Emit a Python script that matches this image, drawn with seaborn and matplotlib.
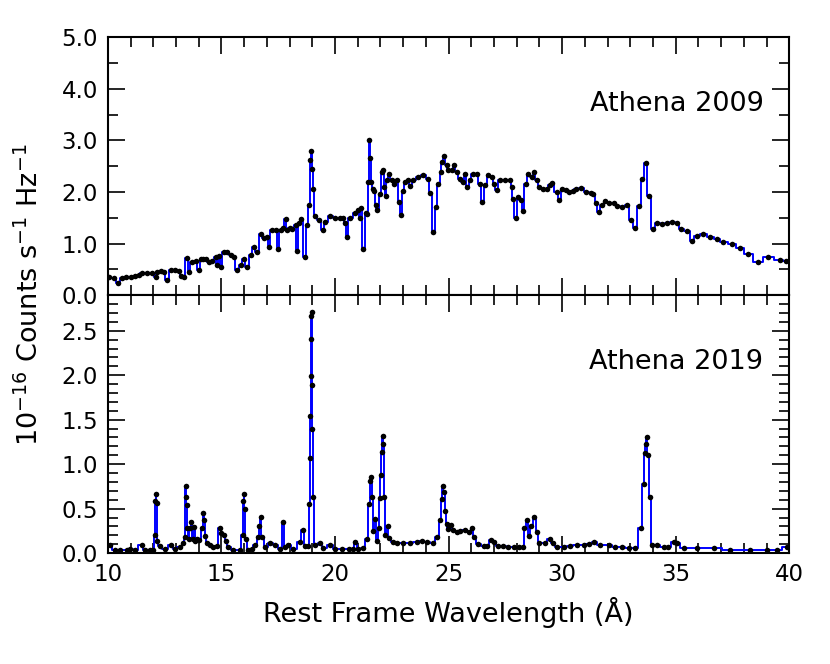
import matplotlib
matplotlib.use('Agg')
import matplotlib.pyplot as plt
from matplotlib.ticker import MultipleLocator, FormatStrFormatter
import seaborn as sns
import pandas as pd

# Athena 2009 (top panel)
top_wave = [10.04, 10.25, 10.45, 10.62, 10.78, 11.0, 11.2, 11.36, 11.51, 11.73, 11.95, 12.10, 12.17,
            12.32, 12.46, 12.61, 12.76, 12.95, 13.12, 13.24, 13.34, 13.49, 13.56, 13.71, 13.86, 14.0,
            14.08, 14.18, 14.30, 14.44, 14.59, 14.74, 14.81, 14.88, 14.96, 15.10, 15.25, 15.40, 15.54,
            15.69, 15.84, 15.98, 16.13, 16.28, 16.42, 16.57, 16.72, 16.86, 17.01, 17.08, 17.23, 17.38,
            17.48, 17.60, 17.72, 17.82, 17.89, 18.0, 18.11, 18.26, 18.33, 18.42, 18.52, 18.67, 18.77,
            18.87, 18.91, 18.96, 19.00, 19.05, 19.10, 19.28, 19.46, 19.57, 19.79, 20.01, 20.22, 20.37,
            20.44, 20.51, 20.66, 20.88, 21.03, 21.10, 21.14, 21.25, 21.35, 21.42, 21.47, 21.51, 21.55,
            21.60, 21.66, 21.72, 21.79, 21.86, 21.98, 22.05, 22.13, 22.17, 22.23, 22.30, 22.39, 22.49,
            22.60, 22.71, 22.82, 22.90, 22.98, 23.08, 23.23, 23.30, 23.45, 23.67, 23.89, 24.11, 24.18,
            24.33, 24.43, 24.55, 24.65, 24.72, 24.81, 24.91, 24.99, 25.13, 25.23, 25.35, 25.50, 25.62,
            25.72, 25.82, 25.94, 26.06, 26.23, 26.38, 26.48, 26.60, 26.74, 26.89, 26.99, 27.11, 27.26,
            27.48, 27.70, 27.77, 27.84, 27.96, 28.06, 28.17, 28.28, 28.39, 28.50, 28.65, 28.77, 28.87,
            28.97, 29.16, 29.31, 29.46, 29.57, 29.75, 29.87, 30.0, 30.17, 30.32, 30.47, 30.61, 30.83,
            31.05, 31.27, 31.37, 31.49, 31.60, 31.75, 31.90, 32.07, 32.29, 32.43, 32.65, 32.87, 33.02,
            33.21, 33.38, 33.53, 33.67, 33.82, 33.99, 34.18, 34.40, 34.62, 34.84, 35.06, 35.25, 35.50,
            35.71, 35.93, 36.22, 36.52, 36.81, 37.10, 37.46, 37.83, 38.19, 38.63, 39.07, 39.58, 39.87]
top_counts = [0.35, 0.34, 0.23, 0.33, 0.35, 0.36, 0.38, 0.39, 0.43, 0.43, 0.42, 0.35, 0.45,
              0.46, 0.44, 0.29, 0.48, 0.49, 0.46, 0.37, 0.35, 0.72, 0.45, 0.65, 0.66, 0.48,
              0.71, 0.70, 0.71, 0.65, 0.66, 0.73, 0.58, 0.75, 0.55, 0.84, 0.83, 0.77, 0.74,
              0.48, 0.58, 0.71, 0.55, 0.77, 0.94, 0.84, 1.19, 1.10, 1.13, 0.94, 1.26, 1.26,
              0.89, 1.27, 1.30, 1.48, 1.26, 1.30, 1.29, 1.35, 0.86, 1.40, 1.48, 0.74, 1.35,
              1.74, 2.61, 2.79, 2.44, 2.05, 1.53, 1.46, 1.26, 1.42, 1.53, 1.50, 1.50, 1.49,
              1.39, 1.12, 1.50, 1.59, 1.65, 1.50, 1.68, 0.89, 1.59, 1.57, 2.19, 3.00, 2.65,
              2.19, 2.06, 2.02, 1.74, 1.65, 1.97, 2.39, 2.43, 2.10, 1.92, 2.24, 2.34, 2.23,
              2.16, 2.23, 1.81, 1.55, 2.02, 2.19, 2.23, 2.11, 2.24, 2.29, 2.32, 2.26, 1.98,
              1.23, 1.71, 2.16, 2.39, 2.58, 2.69, 2.52, 2.42, 2.43, 2.52, 2.39, 2.26, 2.19,
              2.34, 2.10, 2.23, 2.34, 2.34, 2.16, 1.81, 2.13, 2.32, 2.29, 2.16, 2.03, 2.23,
              2.23, 2.23, 2.10, 1.87, 1.50, 1.90, 1.84, 1.63, 2.16, 2.34, 2.29, 2.39, 2.24,
              2.10, 2.05, 2.06, 2.13, 2.17, 2.00, 1.85, 2.05, 2.03, 2.00, 2.02, 2.05, 2.07,
              2.00, 1.98, 1.96, 1.79, 1.62, 1.74, 1.83, 1.79, 1.78, 1.72, 1.70, 1.74, 1.45,
              1.31, 1.72, 2.26, 2.56, 1.92, 1.29, 1.39, 1.37, 1.40, 1.42, 1.40, 1.29, 1.24,
              1.05, 1.14, 1.18, 1.13, 1.08, 1.03, 1.00, 0.92, 0.79, 0.65, 0.74, 0.68, 0.67]

# Athena 2019 (bottom panel)
bot_wave = [10.09, 10.31, 10.55, 10.82, 10.97, 11.2, 11.48, 11.62, 11.85, 12.0, 12.07, 12.09, 12.11,
            12.14, 12.17, 12.28, 12.5, 12.78, 12.95, 13.17, 13.32, 13.39, 13.42, 13.45, 13.47, 13.49,
            13.55, 13.61, 13.67, 13.73, 13.79, 13.84, 13.91, 14.02, 14.14, 14.19, 14.23, 14.29, 14.38,
            14.49, 14.64, 14.79, 14.93, 15.0, 15.11, 15.2, 15.3, 15.52, 15.82, 15.93, 15.96, 15.99,
            16.02, 16.06, 16.18, 16.33, 16.47, 16.62, 16.67, 16.73, 16.79, 16.92, 17.14, 17.36, 17.58,
            17.72, 17.80, 17.95, 18.16, 18.46, 18.58, 18.68, 18.82, 18.87, 18.90, 18.91, 18.93, 18.94,
            18.96, 18.97, 18.98, 19.00, 19.02, 19.12, 19.34, 19.49, 19.78, 20.0, 20.3, 20.6, 20.8,
            20.88, 21.03, 21.25, 21.39, 21.51, 21.54, 21.59, 21.63, 21.69, 21.76, 21.83, 21.92, 21.98,
            22.01, 22.06, 22.09, 22.13, 22.16, 22.22, 22.31, 22.39, 22.54, 22.72, 23.0, 23.3, 23.6,
            23.82, 24.04, 24.33, 24.48, 24.63, 24.70, 24.74, 24.80, 24.84, 24.91, 24.99, 25.09, 25.21,
            25.36, 25.50, 25.72, 25.91, 26.02, 26.12, 26.31, 26.54, 26.68, 26.86, 27.01, 27.19, 27.41,
            27.63, 27.86, 28.08, 28.27, 28.33, 28.45, 28.55, 28.64, 28.77, 28.89, 29.00, 29.25, 29.45,
            29.60, 29.77, 30.06, 30.35, 30.64, 30.94, 31.20, 31.41, 31.67, 32.04, 32.33, 32.63, 32.92,
            33.21, 33.46, 33.58, 33.64, 33.68, 33.73, 33.77, 33.85, 33.95, 34.17, 34.47, 34.64, 34.91,
            35.05, 35.35, 35.93, 36.67, 37.40, 38.28, 39.02, 39.46, 39.90]
bot_counts = [0.09, 0.034, 0.035, 0.035, 0.05, 0.04, 0.09, 0.04, 0.04, 0.04, 0.20, 0.59, 0.67,
              0.56, 0.14, 0.08, 0.05, 0.09, 0.05, 0.07, 0.11, 0.18, 0.76, 0.63, 0.54, 0.28,
              0.16, 0.28, 0.35, 0.16, 0.29, 0.14, 0.16, 0.15, 0.28, 0.45, 0.37, 0.19, 0.11,
              0.09, 0.07, 0.08, 0.28, 0.23, 0.20, 0.14, 0.07, 0.04, 0.04, 0.20, 0.59, 0.66,
              0.50, 0.16, 0.034, 0.05, 0.09, 0.18, 0.31, 0.41, 0.18, 0.07, 0.11, 0.09, 0.05,
              0.35, 0.07, 0.09, 0.05, 0.12, 0.26, 0.08, 0.08, 0.55, 1.07, 1.54, 1.99, 2.41,
              2.66, 2.71, 1.89, 1.40, 0.63, 0.09, 0.11, 0.06, 0.09, 0.05, 0.05, 0.05, 0.05,
              0.12, 0.05, 0.06, 0.16, 0.55, 0.81, 0.86, 0.63, 0.25, 0.38, 0.14, 0.28, 0.62,
              0.88, 1.14, 1.32, 1.23, 0.63, 0.20, 0.30, 0.17, 0.12, 0.11, 0.11, 0.11, 0.12,
              0.14, 0.13, 0.11, 0.18, 0.37, 0.61, 0.76, 0.69, 0.47, 0.33, 0.27, 0.32, 0.26,
              0.24, 0.25, 0.26, 0.24, 0.28, 0.18, 0.10, 0.08, 0.08, 0.15, 0.125, 0.08, 0.08,
              0.065, 0.065, 0.065, 0.065, 0.28, 0.37, 0.19, 0.30, 0.41, 0.24, 0.114, 0.11, 0.16,
              0.11, 0.07, 0.07, 0.075, 0.09, 0.09, 0.10, 0.125, 0.09, 0.09, 0.07, 0.065, 0.054,
              0.054, 0.28, 0.775, 1.12, 1.23, 1.30, 1.10, 0.63, 0.09, 0.09, 0.065, 0.065, 0.125,
              0.115, 0.054, 0.054, 0.054, 0.036, 0.03, 0.03, 0.036, 0.07]

panel_labels = ['Athena 2009', 'Athena 2019']

sns.set_theme(style='white', rc={
    'axes.linewidth': 1.5, 'axes.edgecolor': 'black',
    'text.color': 'black', 'axes.labelcolor': 'black',
    'xtick.direction': 'in', 'ytick.direction': 'in',
    'xtick.top': True, 'ytick.right': True,
    'xtick.bottom': True, 'ytick.left': True,
    'xtick.major.size': 12, 'xtick.minor.size': 7,
    'ytick.major.size': 12, 'ytick.minor.size': 7,
    'xtick.major.width': 1.2, 'xtick.minor.width': 1.2,
    'ytick.major.width': 1.2, 'ytick.minor.width': 1.2,
    'xtick.color': 'black', 'ytick.color': 'black',
    'xtick.major.pad': 7, 'ytick.major.pad': 7,
})
plt.rcParams['font.family'] = ['DejaVu Sans']
plt.rcParams['mathtext.fontset'] = 'dejavusans'

fig, (ax1, ax2) = plt.subplots(2, 1, sharex=True, figsize=(8.3, 6.64), dpi=100)
fig.subplots_adjust(left=0.130, right=0.951, top=0.944, bottom=0.167, hspace=0)

df_top = pd.DataFrame({'wave': top_wave, 'counts': top_counts})
df_bot = pd.DataFrame({'wave': bot_wave, 'counts': bot_counts})

for ax, df, lab in [(ax1, df_top, panel_labels[0]), (ax2, df_bot, panel_labels[1])]:
    sns.lineplot(data=df, x='wave', y='counts', ax=ax, color='blue', lw=1.4,
                 drawstyle='steps-mid', errorbar=None, zorder=2)
    sns.scatterplot(data=df, x='wave', y='counts', ax=ax, color='black', s=16,
                    linewidth=0, zorder=3)
    ax.text(0.962, 0.742, lab, transform=ax.transAxes, ha='right', va='center',
            fontsize=19.5, color='black')
    ax.set_xlabel('')
    ax.set_ylabel('')
    ax.xaxis.set_major_locator(MultipleLocator(5))
    ax.xaxis.set_minor_locator(MultipleLocator(1))
    ax.tick_params(which='both', direction='in', top=True, right=True, labelsize=16.5)

ax1.set_ylim(0, 5)
ax1.yaxis.set_major_locator(MultipleLocator(1))
ax1.yaxis.set_minor_locator(MultipleLocator(0.5))
ax1.yaxis.set_major_formatter(FormatStrFormatter('%.1f'))
ax1.tick_params(labelbottom=False)

ax2.set_ylim(0, 2.9)
ax2.yaxis.set_major_locator(MultipleLocator(0.5))
ax2.yaxis.set_minor_locator(MultipleLocator(0.1))
ax2.yaxis.set_major_formatter(FormatStrFormatter('%.1f'))
ax2.set_xlim(10, 40)
ax2.set_xlabel('Rest Frame Wavelength (Å)', fontsize=19.5, labelpad=8, color='black')

fig.text(0.036, 0.556, r'$10^{-16}$ Counts s$^{-1}$ Hz$^{-1}$', rotation=90,
         ha='center', va='center', fontsize=19.5, color='black')

fig.savefig('out.png', dpi=100)
